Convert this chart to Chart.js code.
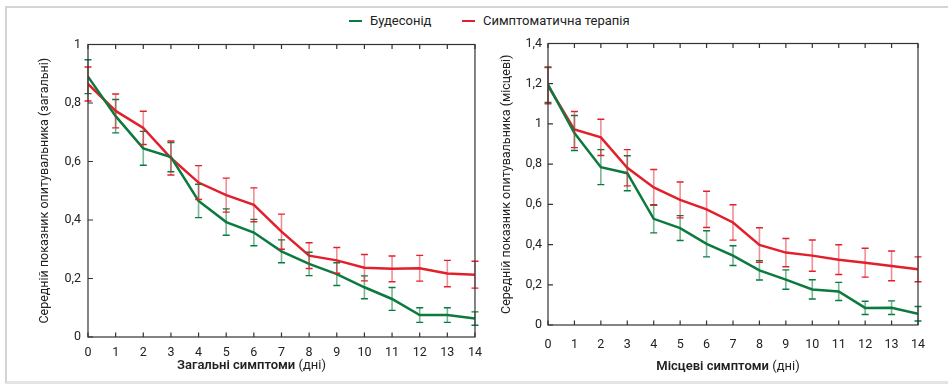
<!DOCTYPE html>
<html>
<head>
<meta charset="utf-8">
<script src="https://cdn.jsdelivr.net/npm/chart.js@4.4.1/dist/chart.umd.min.js"></script>
<style>
  body { margin: 0; background: #fff; width: 948px; height: 385px; overflow: hidden; position: relative; font-family: Roboto, "Liberation Sans", sans-serif; }
  #frame { position: absolute; left: 5px; top: 6px; width: 960px; height: 373px; border-left: 2px solid #d4d4d4; border-top: 2px solid #d4d4d4; border-bottom: 3px solid #e4e4e4; }
  #legend { position: absolute; top: 12px; left: 0; width: 948px; height: 18px; font-size: 13px; color: #222; }
  .item { position: absolute; top: 0; line-height: 18px; white-space: nowrap; }
  .swatch { display: inline-block; width: 13px; height: 2px; vertical-align: middle; margin-right: 8px; position: relative; top: -1px; }
  .wrap { position: absolute; top: 30px; height: 350px; }
</style>
</head>
<body>
<div id="frame"></div>
<div id="legend">
  <div class="item" style="left:349px"><span class="swatch" style="background:#0b7a3e"></span>Будесонід</div>
  <div class="item" style="left:462px"><span class="swatch" style="background:#e2202c"></span>Симптоматична терапія</div>
</div>
<div class="wrap" style="left:30px;width:460px"><canvas id="genChart"></canvas></div>
<div class="wrap" style="left:490px;width:450px"><canvas id="locChart"></canvas></div>
<script>
const days = [0, 1, 2, 3, 4, 5, 6, 7, 8, 9, 10, 11, 12, 13, 14];

// загальні симптоми
const budGen    = [0.89, 0.755, 0.645, 0.615, 0.465, 0.393, 0.357, 0.293, 0.25, 0.215, 0.17, 0.13, 0.075, 0.075, 0.063];
const budGenErr = [0.058, 0.057, 0.058, 0.05, 0.057, 0.045, 0.045, 0.039, 0.04, 0.039, 0.039, 0.039, 0.025, 0.025, 0.023];
const symGen    = [0.865, 0.773, 0.715, 0.612, 0.528, 0.485, 0.452, 0.36, 0.278, 0.262, 0.237, 0.233, 0.235, 0.217, 0.213];
const symGenErr = [0.058, 0.058, 0.057, 0.058, 0.058, 0.058, 0.058, 0.06, 0.044, 0.044, 0.045, 0.044, 0.044, 0.045, 0.046];

// місцеві симптоми
const budLoc    = [1.195, 0.955, 0.785, 0.755, 0.528, 0.482, 0.404, 0.345, 0.272, 0.226, 0.177, 0.167, 0.085, 0.086, 0.056];
const budLocErr = [0.088, 0.087, 0.087, 0.087, 0.07, 0.062, 0.065, 0.049, 0.048, 0.048, 0.048, 0.045, 0.033, 0.034, 0.036];
const symLoc    = [1.19, 0.972, 0.933, 0.782, 0.684, 0.622, 0.575, 0.51, 0.398, 0.36, 0.345, 0.325, 0.31, 0.294, 0.277];
const symLocErr = [0.09, 0.09, 0.09, 0.09, 0.089, 0.089, 0.09, 0.088, 0.086, 0.07, 0.078, 0.074, 0.072, 0.074, 0.062];

const seriesNames = ['Будесонід', 'Симптоматична терапія'];
const colors = ['#0b7a3e', '#e2202c'];
const stemColors = ['rgba(11,122,62,0.55)', 'rgba(226,32,44,0.5)'];

const axisFont = { family: 'Roboto, "Liberation Sans", sans-serif', size: 12.5 };
const fmt = v => String(+Number(v).toFixed(1)).replace('.', ',');

// error bars, drawn through the chart's own scales
const errorBars = {
  id: 'errorBars',
  afterDatasetsDraw(chart, args, opts) {
    const { ctx, scales: { x, y } } = chart;
    ctx.save();
    chart.data.datasets.forEach((ds, i) => {
      const errs = opts.errors[i];
      ds.data.forEach((pt, j) => {
        const px = x.getPixelForValue(pt.x);
        const top = y.getPixelForValue(pt.y + errs[j]);
        const bot = y.getPixelForValue(pt.y - errs[j]);
        ctx.lineWidth = 1.6;
        ctx.strokeStyle = stemColors[i];
        ctx.beginPath(); ctx.moveTo(px, top); ctx.lineTo(px, bot); ctx.stroke();
        ctx.strokeStyle = colors[i];
        ctx.lineWidth = 1.4;
        ctx.beginPath();
        ctx.moveTo(px - 3.5, top); ctx.lineTo(px + 3.5, top);
        ctx.moveTo(px - 3.5, bot); ctx.lineTo(px + 3.5, bot);
        ctx.stroke();
      });
    });
    ctx.restore();
  }
};

// closed frame with inward ticks
const boxFrame = {
  id: 'boxFrame',
  afterDraw(chart) {
    const { ctx, chartArea: a, scales: { x, y } } = chart;
    ctx.save();
    ctx.strokeStyle = '#333';
    ctx.lineWidth = 1.2;
    ctx.strokeRect(a.left, a.top, a.right - a.left, a.bottom - a.top);
    ctx.beginPath();
    x.ticks.forEach((t, i) => {
      const px = x.getPixelForTick(i);
      ctx.moveTo(px, a.bottom); ctx.lineTo(px, a.bottom - 4.5);
      ctx.moveTo(px, a.top); ctx.lineTo(px, a.top + 4.5);
    });
    y.ticks.forEach((t, i) => {
      const py = y.getPixelForTick(i);
      ctx.moveTo(a.left, py); ctx.lineTo(a.left + 5, py);
    });
    ctx.stroke();
    ctx.restore();
  }
};

// x-axis caption: bold words + normal "(дні)"
const caption = {
  id: 'caption',
  afterDraw(chart, args, opts) {
    const { ctx, chartArea: a } = chart;
    ctx.save();
    ctx.fillStyle = '#222';
    ctx.textBaseline = 'middle';
    const bold = '600 13px Roboto, "Liberation Sans", sans-serif';
    const norm = '400 13px Roboto, "Liberation Sans", sans-serif';
    ctx.font = bold;
    const w1 = ctx.measureText(opts.bold + ' ').width;
    ctx.font = norm;
    const w2 = ctx.measureText(opts.normal).width;
    const x0 = (a.left + a.right) / 2 + opts.dx - (w1 + w2) / 2;
    ctx.font = bold;
    ctx.fillText(opts.bold + ' ', x0, opts.y);
    ctx.font = norm;
    ctx.fillText(opts.normal, x0 + w1, opts.y);
    ctx.restore();
  }
};

function makeChart(id, bud, budErr, sym, symErr, cfg) {
  return new Chart(document.getElementById(id), {
    type: 'line',
    data: {
      datasets: [
        { label: seriesNames[0], data: days.map((d, i) => ({ x: d, y: bud[i] })), borderColor: colors[0], borderWidth: 2.5, pointRadius: 0, tension: 0 },
        { label: seriesNames[1], data: days.map((d, i) => ({ x: d, y: sym[i] })), borderColor: colors[1], borderWidth: 2.5, pointRadius: 0, tension: 0 }
      ]
    },
    options: {
      responsive: true,
      maintainAspectRatio: false,
      animation: false,
      layout: { padding: { top: 12, right: cfg.padRight, left: 0, bottom: 0 } },
      plugins: {
        legend: { display: false },
        tooltip: { enabled: false },
        errorBars: { errors: [budErr, symErr] },
        caption: cfg.caption
      },
      scales: {
        x: {
          type: 'linear', min: 0, max: 14,
          afterFit: s => { s.height = cfg.xHeight; },
          ticks: { stepSize: 1, padding: cfg.xPad, color: '#222', font: axisFont, maxRotation: 0, autoSkip: false },
          grid: { display: false, drawTicks: false },
          border: { display: false }
        },
        y: {
          min: 0, max: cfg.yMax,
          afterFit: s => { s.width = 58; },
          ticks: { stepSize: 0.2, padding: cfg.yPad, color: '#222', font: axisFont, callback: fmt },
          grid: { display: false, drawTicks: false },
          border: { display: false },
          title: { display: true, text: cfg.yTitle, color: '#222', font: { family: axisFont.family, size: 12.5 }, padding: { top: cfg.yTitlePad, bottom: 0 } }
        }
      }
    },
    plugins: [errorBars, boxFrame, caption]
  });
}

makeChart('genChart', budGen, budGenErr, symGen, symGenErr, {
  yMax: 1, padRight: 15, xHeight: 43, xPad: 8, yPad: 7, yTitlePad: 7,
  yTitle: 'Середній показник опитувальника (загальні)',
  caption: { bold: 'Загальні симптоми', normal: '(дні)', dx: -30, y: 336 }
});
makeChart('locChart', budLoc, budLocErr, symLoc, symLocErr, {
  yMax: 1.4, padRight: 22, xHeight: 55, xPad: 12, yPad: 6, yTitlePad: 9,
  yTitle: 'Середній показник опитувальника (місцеві)',
  caption: { bold: 'Місцеві симптоми', normal: '(дні)', dx: -5, y: 337 }
});
</script>
</body>
</html>
